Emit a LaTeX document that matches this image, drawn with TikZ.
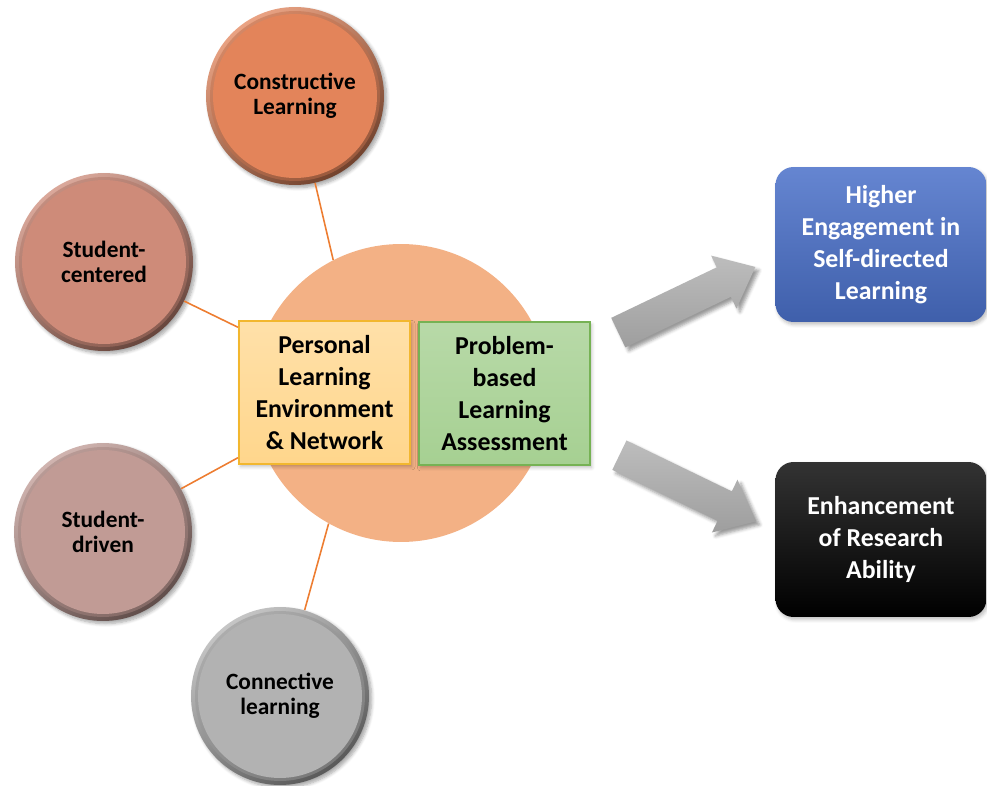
\documentclass[tikz,border=0pt]{standalone}
\usepackage{fontspec}
\setmainfont{Carlito}
\usetikzlibrary{positioning,shapes.arrows,shadows.blur}

\definecolor{hubfill}{RGB}{243,177,133}
\definecolor{linkcol}{RGB}{237,125,49}
\definecolor{constr}{RGB}{227,132,90}
\definecolor{centr}{RGB}{206,139,121}
\definecolor{drivn}{RGB}{193,155,149}
\definecolor{connct}{RGB}{178,178,178}
\definecolor{pleyel}{RGB}{255,214,140}
\definecolor{pledge}{RGB}{242,183,47}
\definecolor{pblgrn}{RGB}{166,208,146}
\definecolor{pbledge}{RGB}{118,178,84}
\definecolor{engblue}{RGB}{74,112,201}

\begin{document}
\begin{tikzpicture}[x=0.02cm,y=-0.02cm,
    ball/.style={circle,inner sep=0pt,minimum size=3.56cm,align=center,
      font=\fontsize{13.3}{14.5}\selectfont\bfseries,
      top color=#1!75!white,bottom color=#1!50!black,shading angle=35,
      blur shadow={shadow xshift=1.5pt,shadow yshift=-1.5pt,shadow blur steps=6,shadow opacity=35},
      path picture={
        \fill[#1!85!black,opacity=.5] (path picture bounding box.center) circle (1.7cm);
        \fill[#1] (path picture bounding box.center) circle (1.64cm);}},
    midbox/.style={minimum width=3.42cm,minimum height=2.86cm,inner sep=0pt,align=center,
      line width=1.2pt,font=\fontsize{14.7}{18.1}\selectfont\bfseries,
      blur shadow={shadow xshift=1pt,shadow yshift=-1.5pt,shadow opacity=25}},
    outcome/.style={rounded corners=0.36cm,minimum width=4.22cm,minimum height=3.1cm,
      inner sep=0pt,align=center,text=white,font=\fontsize{14.7}{18.3}\selectfont\bfseries,
      blur shadow={shadow xshift=1pt,shadow yshift=-1.5pt,shadow opacity=25}},
    fatarrow/.style={single arrow,single arrow head extend=0.26cm,single arrow tip angle=80,
      inner xsep=0pt,inner ysep=0.32cm,minimum height=3.04cm,
      top color=black!26,bottom color=black!38,
      blur shadow={shadow xshift=2pt,shadow yshift=-2pt,shadow opacity=40}},
    link/.style={draw=linkcol,line width=0.9pt}]

\useasboundingbox (0,0) rectangle (987,786);

% hub and the two boxes on it
\node[circle,fill=hubfill,minimum size=5.96cm,inner sep=0pt] (hub) at (401,393) {};
\node[midbox,draw=pledge,top color=pleyel!75!white,bottom color=pleyel] (ple) at (324.5,392.5)
  {Personal\\Learning\\Environment\\\& Network};
\node[midbox,draw=pbledge,top color=pblgrn!80!white,bottom color=pblgrn] (pbl) at (504.5,393.5)
  {Problem-\\based\\Learning\\Assessment};

% the four approaches
\node[ball=constr] (cl) at (295,96) {Constructive\\Learning};
\node[ball=centr] (sc) at (104,262) {Student-\\centered};
\node[ball=drivn] (sd) at (103,532) {Student-\\driven};
\node[ball=connct] (cn) at (280,696) {Connective\\learning};

\draw[link] (cl.-77) -- (hub.117);
\draw[link] (sc.-26) -- (ple.143);
\draw[link] (sd.29) -- (ple.217);
\draw[link] (cn.74) -- (hub.241);

% outcomes
\node[outcome,top color=engblue!85!white,bottom color=engblue!85!black] (hel) at (881,244.5)
  {Higher\\Engagement in\\Self-directed\\Learning};
\node[outcome,top color=black!80,bottom color=black] (era) at (881,539.5)
  {Enhancement\\of Research\\Ability};

\node[fatarrow,rotate=25.6] (up) at (678,304) {};
\node[fatarrow,rotate=-25.8] (down) at (679,484) {};
\end{tikzpicture}
\end{document}
